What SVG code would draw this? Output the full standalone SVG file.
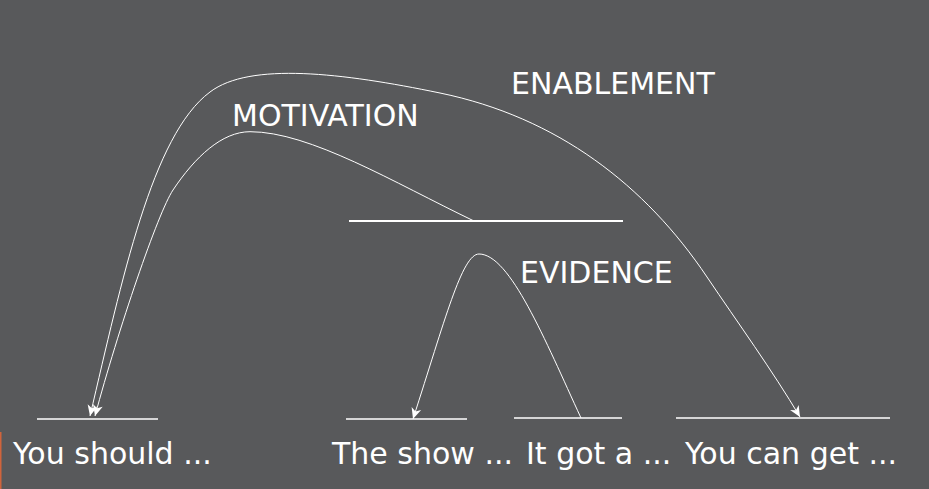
<svg xmlns="http://www.w3.org/2000/svg" width="929" height="489" viewBox="0 0 929 489">
<style>
.bg{fill:#58595b}
.t{font-family:"DejaVu Sans",Verdana,sans-serif;font-size:30px;fill:#ffffff}
.seg{stroke:#ffffff;stroke-width:1.3;fill:none}
.span{stroke:#ffffff;stroke-width:2.2;fill:none}
.arc{stroke:#ffffff;stroke-width:1;fill:none}
</style>
<defs>
<marker id="arrow" markerUnits="userSpaceOnUse" markerWidth="14" markerHeight="12" refX="12" refY="6" orient="auto-start-reverse" overflow="visible">
<path d="M1,1 L12,6 L1,11 L4,6 Z" fill="#ffffff"/>
</marker>
</defs>
<rect class="bg" x="0" y="0" width="929" height="489"/>
<rect x="0" y="432" width="1.5" height="57" fill="#d0643c"/>
<g id="node-you-should">
<line class="seg" x1="37" y1="419" x2="158" y2="419"/>
<text class="t" x="13" y="464">You should ...</text>
</g>
<g id="node-the-show">
<line class="seg" x1="346" y1="419" x2="467" y2="419"/>
<text class="t" x="332" y="464">The show ...</text>
</g>
<g id="node-it-got">
<line class="seg" x1="514" y1="418" x2="622" y2="418"/>
<text class="t" x="526" y="464">It got a ...</text>
</g>
<g id="node-you-can-get">
<line class="seg" x1="676" y1="418" x2="890" y2="418"/>
<text class="t" x="685" y="464">You can get ...</text>
</g>
<g id="node-span">
<line class="span" x1="349" y1="221" x2="623" y2="221"/>
</g>
<g id="connectors">
<path class="arc" d="M581,418 C545,340 510,254 479,254 C462,254 445,320 413,419" marker-end="url(#arrow)"/>
<path class="arc" d="M474,221 C394,182.6 310,131.7 250,131.7 C222,131.7 195,157 173,190 C158,212.5 118,330 95,416" marker-end="url(#arrow)"/>
<path class="arc" d="M90,416 C122,280 152,135 210,92 C249.8,61.8 342,72.8 440,93 C557.5,117.2 645.7,185.6 707,277 C738,323 772,370 800,417" marker-start="url(#arrow)" marker-end="url(#arrow)"/>
<text class="t" x="520" y="283">EVIDENCE</text>
<text class="t" x="232" y="125.5">MOTIVATION</text>
<text class="t" x="511" y="93.5">ENABLEMENT</text>
</g>
</svg>
